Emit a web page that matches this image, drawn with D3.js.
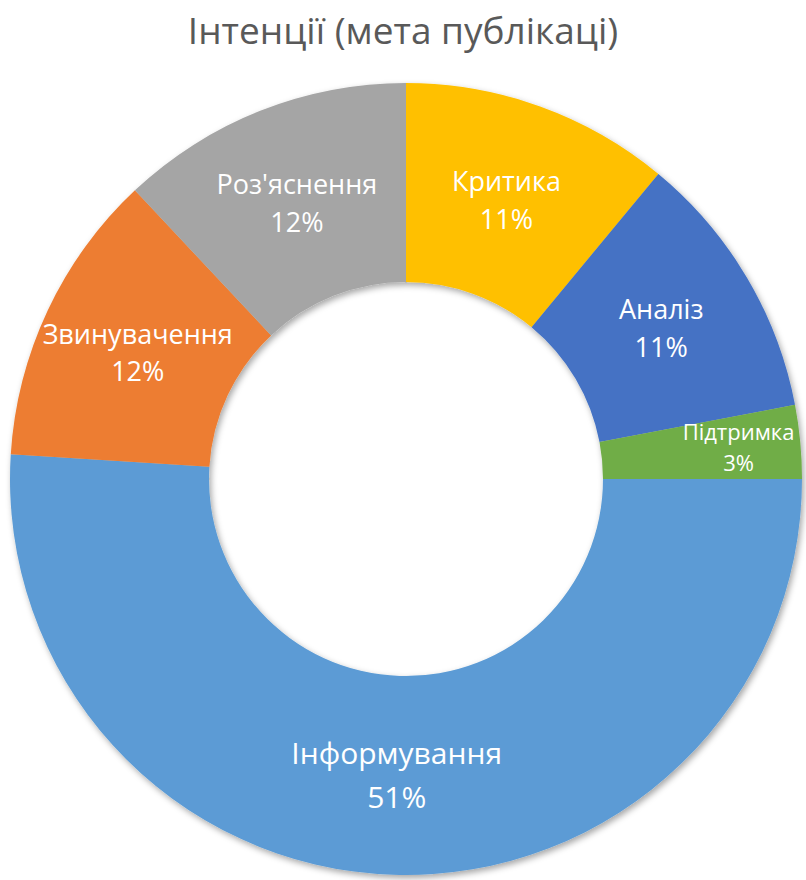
<!DOCTYPE html>
<html>
<head>
<meta charset="utf-8">
<script src="https://cdn.jsdelivr.net/npm/d3@7"></script>
<style>
  html, body { margin: 0; padding: 0; background: #fff; }
  svg { display: block; }
</style>
</head>
<body>
<svg id="chart" width="806" height="880"></svg>
<script>
// Publication intents, share of all publications (%)
const categories = ["Критика", "Аналіз", "Підтримка", "Інформування", "Звинувачення", "Роз'яснення"];
const values = [11, 11, 3, 51, 12, 12];
const colors = ["#FFC000", "#4472C4", "#70AD47", "#5B9BD5", "#ED7D31", "#A5A5A5"];
const title = "Інтенції (мета публікаці)";

const width = 806, height = 880;
const cx = 406, cy = 479;
const outerR = 396, innerR = 197;
const font = "'Open Sans', 'Noto Sans', sans-serif";

const svg = d3.select("#chart");

// soft drop shadow under the ring (shows inside the hole and along the lower rim)
const defs = svg.append("defs");
const shadow = defs.append("filter")
  .attr("id", "ringShadow")
  .attr("x", "-10%").attr("y", "-10%")
  .attr("width", "120%").attr("height", "120%");
shadow.append("feDropShadow")
  .attr("dx", 2).attr("dy", 3)
  .attr("stdDeviation", 3)
  .attr("flood-color", "#000")
  .attr("flood-opacity", 0.35);

svg.append("text")
  .attr("x", width / 2)
  .attr("y", 44)
  .attr("text-anchor", "middle")
  .attr("font-family", font)
  .attr("font-size", 37)
  .attr("fill", "#595959")
  .text(title);

const data = categories.map((c, i) => ({ name: c, value: values[i], color: colors[i] }));

const pie = d3.pie().value(d => d.value).sort(null);
const arcs = pie(data);

const arc = d3.arc().innerRadius(innerR).outerRadius(outerR);

const g = svg.append("g").attr("transform", `translate(${cx},${cy})`);

g.append("g")
  .attr("filter", "url(#ringShadow)")
  .selectAll("path")
  .data(arcs)
  .join("path")
  .attr("d", arc)
  .attr("fill", d => d.data.color);

const total = d3.sum(values);
const isSmall = d => d.data.value / total < 0.05;
const isLarge = d => d.data.value / total > 0.4;

// label ring: small slices push their labels outward
const labelPos = d => {
  const r = isSmall(d) ? outerR - 62 : (innerR + outerR) / 2;
  return d3.arc().innerRadius(r).outerRadius(r).centroid(d);
};
const fontSize = d => isSmall(d) ? 22 : (isLarge(d) ? 30 : 27);
const lineGap = d => isSmall(d) ? 1.45 : (isLarge(d) ? 1.48 : 1.4);

const labels = g.append("g")
  .selectAll("text")
  .data(arcs)
  .join("text")
  .attr("text-anchor", "middle")
  .attr("font-family", font)
  .attr("fill", "#fff")
  .attr("font-size", fontSize)
  .attr("transform", d => {
    const [x, y] = labelPos(d);
    return `translate(${x},${y})`;
  });

// two lines, vertically centred on the label point
labels.append("tspan")
  .attr("x", 0)
  .attr("dy", d => ((0.72 - lineGap(d)) / 2) + "em")
  .text(d => d.data.name);
labels.append("tspan")
  .attr("x", 0)
  .attr("dy", d => lineGap(d) + "em")
  .text(d => d3.format(".0%")(d.data.value / total));
</script>
</body>
</html>
